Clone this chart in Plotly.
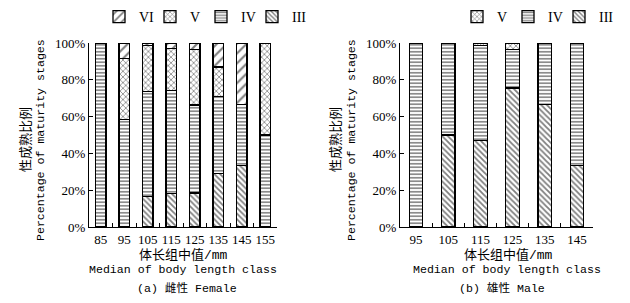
import plotly.graph_objects as go

# Female data (percent)
f_cats = ["85", "95", "105", "115", "125", "135", "145", "155"]
f_III = [0, 0, 16.7, 18.2, 18.5, 29.2, 33.3, 0]
f_IV = [100, 58.3, 56.8, 56.0, 47.8, 41.6, 33.4, 50]
f_V = [0, 33.4, 25.0, 22.8, 30.2, 16.2, 0, 50]
f_VI = [0, 8.3, 1.5, 3.0, 3.5, 13.0, 33.3, 0]

# Male data (percent)
m_cats = ["95", "105", "115", "125", "135", "145"]
m_III = [0, 50, 47.0, 75.5, 66.7, 33.3]
m_IV = [100, 50, 51.5, 21.0, 33.3, 66.7]
m_V = [0, 0, 1.5, 3.5, 0, 0]

stage_names = ["III", "IV", "V", "VI"]
patterns = {"III": dict(shape="\\", size=4, solidity=0.45),
            "IV": dict(shape="-", size=3.5, solidity=0.45),
            "V": dict(shape="x", size=4, solidity=0.35),
            "VI": dict(shape="/", size=7, solidity=0.3)}

SERIF = "Liberation Serif"
MONO = "Liberation Mono, Noto Sans CJK SC"
CJK = "Noto Sans CJK SC"

# page has an 8px body margin; figure sized to fit the 630x303 window
OFF = 8
W, H = 630 - 2 * OFF, 303 - 2 * OFF

def px(x):
    return (x - OFF) / W

def py(y):
    return 1 - (y - OFF) / H

fig = go.Figure()

def add_bar(cats, vals, name, xa, ya, legend, width):
    p = patterns[name]
    fig.add_trace(go.Bar(
        x=cats, y=vals, name=name, xaxis=xa, yaxis=ya, legend=legend,
        width=width,
        legendwidth=16 if name == "III" else 6,
        marker=dict(color="white",
                    line=dict(color="black", width=1.3),
                    pattern=dict(shape=p["shape"], size=p["size"], solidity=p["solidity"],
                                 fgcolor="black", bgcolor="white", fillmode="overlay")),
    ))

for name, vals in zip(stage_names, [f_III, f_IV, f_V, f_VI]):
    add_bar(f_cats, vals, name, "x", "y", "legend", 0.45)
for name, vals in zip(stage_names[:3], [m_III, m_IV, m_V]):
    add_bar(m_cats, vals, name, "x2", "y2", "legend2", 0.42)

ydom = [py(227), py(43)]
axis_common = dict(showline=True, linecolor="black", linewidth=1.3, mirror=False,
                   showgrid=False, zeroline=False, ticks="inside", ticklen=4,
                   tickcolor="black", tickwidth=1,
                   tickfont=dict(family=SERIF, size=13, color="black"))

legend_common = dict(orientation="h", traceorder="reversed", yanchor="top",
                     y=1 + 7 / H, xanchor="left",
                     font=dict(family=SERIF, size=14, color="black"),
                     itemwidth=30, bgcolor="rgba(0,0,0,0)")

fig.update_layout(
    width=W, height=H,
    margin=dict(l=0, r=0, t=0, b=0, autoexpand=False),
    paper_bgcolor="white", plot_bgcolor="white",
    barmode="stack",
    xaxis=dict(domain=[px(89), px(277)], type="category", range=[-0.5, 7.5],
               tickson="boundaries", tickangle=0, anchor="y", **axis_common),
    yaxis=dict(domain=ydom, range=[0, 100], dtick=20, ticksuffix="%", anchor="x",
               **axis_common),
    xaxis2=dict(domain=[px(400), px(593)], type="category", range=[-0.5, 5.5],
                tickson="boundaries", tickangle=0, anchor="y2", **axis_common),
    yaxis2=dict(domain=ydom, range=[0, 100], dtick=20, ticksuffix="%", anchor="x2",
                **axis_common),
    legend=dict(x=px(99), **legend_common),
    legend2=dict(x=px(457), **legend_common),
    showlegend=True,
)

def ann(text, x, y, size, family, angle=0):
    fig.add_annotation(text=text, x=px(x), y=py(y), xref="paper", yref="paper",
                       showarrow=False, textangle=angle,
                       font=dict(family=family, size=size, color="black"),
                       xanchor="center", yanchor="middle")

# Y titles
ann("性成熟比例", 24, 140, 13, CJK, -90)
ann("Percentage of maturity stages", 40, 140, 11.6, MONO, -90)
ann("性成熟比例", 334, 140, 13, CJK, -90)
ann("Percentage of maturity stages", 351, 140, 11.6, MONO, -90)

# X titles
ann("体长组中值/mm", 183, 255, 13, MONO)
ann("Median of body length class", 183, 269, 11.6, MONO)
ann("(a) 雌性 Female", 187, 288, 11.6, MONO)
ann("体长组中值/mm", 508, 255, 13, MONO)
ann("Median of body length class", 507, 269, 11.6, MONO)
ann("(b) 雄性 Male", 502, 288, 11.6, MONO)

fig.write_html("out.html")
